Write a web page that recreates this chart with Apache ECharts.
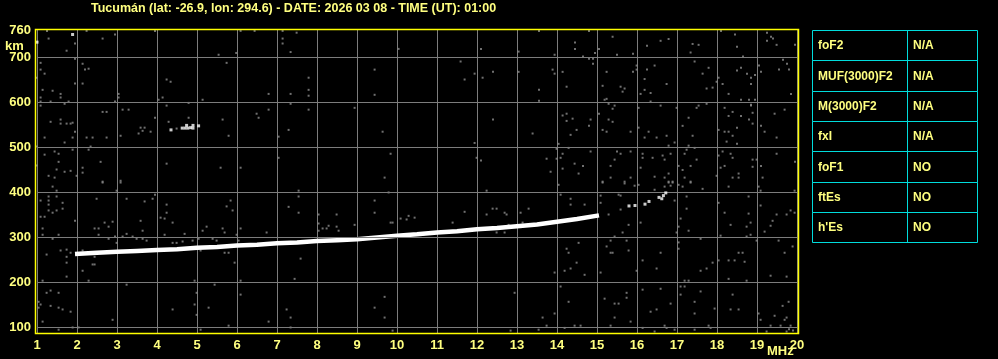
<!DOCTYPE html>
<html>
<head>
<meta charset="utf-8">
<script src="https://cdn.jsdelivr.net/npm/echarts@6/dist/echarts.min.js"></script>
<style>
html,body{margin:0;padding:0;background:#000;}
#chart{width:998px;height:359px;}
</style>
</head>
<body>
<div id="chart"></div>
<script>
const titleText = 'Tucumán (lat: -26.9, lon: 294.6) - DATE: 2026 03 08 - TIME (UT): 01:00';
const xTicks = [1,2,3,4,5,6,7,8,9,10,11,12,13,14,15,16,17,18,19,20];
const yTickLabels = [100,200,300,400,500,600,700,760];
const yGridValues = [100,200,300,400,500,600,700];
const xUnit = 'MHz';
const yUnit = 'km';
const tableParams = ['foF2','MUF(3000)F2','M(3000)F2','fxI','foF1','ftEs',"h'Es"];
const tableValues = ['N/A','N/A','N/A','N/A','NO','NO','NO'];

// main F-trace (frequency MHz, virtual height km)
const traceFreq = [1.95,2.5,3,3.5,4,4.5,5,5.5,6,6.5,7,7.5,8,8.5,9,9.5,10,10.5,11,11.5,12,12.5,13,13.5,14,14.5,15.05];
const traceHeight = [262,265,267,269,271,273,276,278,281,283,286,288,291,293,295,299,303,306,310,313,317,320,324,328,334,340,348];
// isolated white echoes
const whiteDots = [[15.8,369],[15.95,370],[16.2,373],[16.3,379],[16.55,388],[16.62,385],[16.66,392],[16.72,398],
  [4.35,538],[4.63,542],[4.7,542],[4.77,542],[4.84,543],[4.9,542],[4.74,548],[4.9,548],[5.04,547],[1.0,733],[1.89,750]];

// grey noise echoes
const noiseA = [[1.25,758],[1.95,730],[1.29,741],[1.74,714],[2.24,758],[2.64,741],[2.95,750],[3.95,758],[6.09,758],[6.44,758],[7.14,758],[7.14,741],[7.14,730],[7.49,754],[7.34,711],[5.54,705],[5.98,709],[10.04,718],[5.74,687],[1.09,687],[1.09,672],[1.19,663],[1.95,696],[2.14,685],[2.2,672],[2.29,674],[1.0,654],[1.14,627],[1.39,625],[1.59,618],[1.59,610],[1.09,610],[1.09,601],[1.34,601],[1.79,601],[1.69,596],[1.09,592],[1.95,641],[2.14,641],[3.04,618],[3.04,610],[2.95,601],[4.24,650],[4.34,645],[4.14,610],[4.04,605],[4.24,592],[4.79,598],[5.14,605],[6.79,618],[7.34,618],[7.79,654],[7.79,627],[7.79,614],[7.34,596],[6.79,583],[7.79,583],[9.44,672],[9.44,616],[8.94,587],[3.14,583],[3.29,583],[2.64,578],[2.74,578],[3.95,565],[4.29,556],[4.79,565],[5.64,561],[6.49,574],[6.54,565],[1.34,556],[1.59,561],[1.59,552],[1.74,552],[1.84,552],[1.89,554],[1.95,534],[1.19,521],[1.89,521],[2.24,521],[2.39,521],[2.74,521],[3.09,525],[3.54,530],[3.59,543],[3.69,543],[3.64,536],[3.84,534],[4.49,541],[5.79,525],[7.04,523],[7.29,538],[9.64,534],[1.69,510],[2.34,501],[2.29,494],[1.89,494],[1.0,501],[1.44,490],[1.54,485],[1.19,483],[2.59,467],[1.54,467],[1.49,450],[1.69,445],[1.84,447],[2.14,454],[2.14,443],[1.99,436],[1.29,436],[1.44,432],[2.64,423],[3.09,425],[4.24,463],[5.59,454],[6.09,454],[7.04,476],[9.84,485],[9.69,432],[1.0,459]];
const noiseB = [[13.55,758],[14.8,758],[15.39,745],[18.1,758],[18.45,750],[19.25,754],[19.35,745],[19.4,741],[19.25,736],[19.49,727],[19.95,727],[12.1,718],[13.04,712],[13.94,705],[14.45,732],[14.45,718],[14.65,701],[14.8,696],[14.9,696],[14.9,685],[14.95,709],[15.05,718],[15.5,705],[15.9,707],[16.25,725],[16.59,736],[16.79,740],[17.39,729],[17.54,727],[17.34,710],[18.5,723],[18.65,701],[11.59,690],[11.94,663],[11.69,650],[12.14,654],[12.4,667],[13.04,667],[13.89,672],[13.94,663],[14.14,667],[13.55,627],[13.55,603],[14.24,634],[15.24,667],[15.14,636],[15.59,634],[15.69,630],[15.64,623],[15.24,607],[15.19,605],[15.9,667],[15.99,681],[15.99,672],[16.25,672],[16.44,681],[16.19,651],[16.19,627],[16.34,620],[16.09,618],[16.34,601],[16.74,640],[17.44,690],[17.64,663],[17.79,676],[17.74,630],[17.89,632],[18.04,654],[17.99,645],[18.14,640],[18.29,618],[18.5,670],[18.6,676],[18.75,663],[18.85,654],[18.85,640],[18.95,660],[19.05,681],[19.1,667],[19.55,672],[19.65,694],[19.75,685],[19.8,672],[19.85,618],[18.6,605],[18.8,605],[18.95,605],[18.85,594],[12.4,561],[13.39,530],[11.94,509],[14.14,570],[14.24,574],[14.24,558],[14.39,563],[14.84,561],[14.8,547],[14.49,538],[14.34,527],[14.04,507],[15.05,574],[15.29,596],[15.44,592],[15.39,585],[15.29,561],[15.39,556],[15.14,538],[15.24,534],[15.84,534],[16.04,587],[16.04,543],[16.29,534],[16.19,521],[16.49,521],[16.59,592],[16.74,525],[16.99,587],[17.14,547],[17.29,565],[17.49,587],[17.54,592],[17.74,596],[17.39,525],[16.94,510],[16.79,503],[17.29,503],[17.44,498],[18.04,538],[18.19,534],[18.29,534],[18.39,525],[18.5,543],[18.19,587],[18.29,569],[18.39,578],[18.6,569],[18.8,561],[18.89,576],[18.89,552],[19.1,547],[19.19,534],[19.49,521],[19.44,574],[19.69,583],[18.85,592],[18.24,512],[18.5,507],
  [11.99,476],[12.1,470],[13.74,474],[13.99,474],[13.99,496],[14.09,476],[14.14,485],[14.14,452],[14.29,498],[14.44,463],[14.65,458],[14.54,441],[13.84,445],[14.84,490],[15.5,490],[15.59,485],[15.44,472],[15.34,458],[15.34,432],[15.84,490],[15.84,432],[16.14,485],[16.14,476],[16.09,454],[16.39,476],[16.64,481],[16.69,472],[16.84,485],[16.44,434],[16.79,441],[16.69,432],[16.79,423],[16.89,423],[17.19,485],[17.24,494],[17.49,472],[17.04,458],[17.14,449],[17.34,458],[17.19,432],[17.34,423],[18.04,481],[18.14,490],[18.34,485],[18.39,476],[18.19,458],[18.09,454],[17.99,436],[18.54,441],[18.54,432],[18.39,432],[18.89,472],[18.99,472],[18.89,456],[19.1,458],[19.14,432],[19.49,485],[19.95,467],[15.14,423],[15.69,423]];
const noiseC = [[1.39,412],[1.49,403],[1.29,390],[1.49,390],[1.29,381],[1.29,372],[1.64,376],[1.64,363],[1.49,359],[1.39,354],[1.29,359],[1.09,381],[1.09,345],[1.19,345],[1.95,336],[2.49,385],[2.64,421],[3.09,421],[2.99,403],[3.95,394],[3.89,385],[3.69,379],[3.24,385],[4.24,372],[4.24,354],[4.09,343],[4.19,341],[4.39,332],[3.59,336],[3.64,314],[2.89,334],[2.79,323],[2.69,332],[2.54,319],[2.44,319],[2.54,305],[1.14,319],[1.14,305],[1.54,305],[1.39,296],[3.24,307],[3.14,301],[3.39,301],[3.49,296],[3.64,296],[3.74,292],[2.95,301],[2.99,287],[2.79,296],[4.19,305],[4.39,287],[4.49,287],[4.64,290],[4.69,307],[4.89,292],[5.04,296],[5.14,314],[5.24,323],[5.39,296],[5.49,292],[5.74,368],[5.84,381],[5.89,359],[5.64,319],[5.69,310],[5.99,305],[6.09,319],[6.04,292],[6.74,310],[7.29,367],[7.54,403],[7.54,390],[7.54,354],[8.04,350],[8.04,330],[8.04,314],[8.14,319],[8.24,319],[8.29,325],[8.49,350],[8.49,323],[8.54,314],[8.94,327],[9.44,381],[9.44,354],[9.79,399],[9.84,332],[9.89,332],[10.09,341],[10.29,347],[10.24,339],[10.44,343],
  [1.24,261],[1.59,270],[1.74,272],[1.74,256],[1.74,243],[1.84,265],[2.14,270],[2.14,225],[2.44,256],[2.39,239],[2.44,239],[1.74,212],[2.29,203],[1.14,203],[3.24,194],[4.99,176],[4.94,203],[5.44,194],[5.94,243],[6.09,203],[6.09,172],[5.79,265],[5.69,265],[5.09,270],[4.94,150],[4.99,127],[5.29,143],[4.39,139],[5.79,103],[6.79,112],[7.24,139],[7.34,121],[7.34,99],[7.59,252],[7.44,207],[9.69,167],[9.69,121],[9.44,143],[9.89,92],[1.24,176],[1.34,181],[1.54,176],[1.04,156],[1.04,143],[1.34,147],[1.54,143],[1.64,139],[1.84,134],[1.14,112],[1.54,94],[2.04,99],[1.89,99],[2.89,116],[5.09,94],[1.09,150]];
const noiseD = [[14.04,416],[15.14,421],[15.69,419],[15.94,414],[16.04,416],[16.44,405],[16.69,412],[16.79,421],[16.89,421],[16.84,414],[17.04,416],[17.14,412],[17.34,421],[17.64,407],[18.29,412],[19.04,412],[19.09,403],[19.94,403],[12.24,403],[14.09,394],[14.34,385],[14.34,372],[14.69,372],[15.09,392],[15.09,376],[15.59,392],[15.54,394],[16.94,381],[17.24,390],[17.24,363],[18.04,376],[18.19,354],[18.79,390],[18.79,352],[19.09,370],[19.49,350],[19.84,359],[19.94,354],[11.69,356],[12.24,350],[12.39,363],[12.49,363],[12.69,354],[12.74,350],[13.09,354],[13.29,363],[15.29,350],[15.59,361],[15.79,327],[16.09,332],[17.04,323],[17.09,341],[17.29,314],[16.99,310],[17.59,296],[18.09,303],[18.34,327],[18.74,323],[18.84,332],[18.74,301],[18.84,305],[18.99,292],[19.19,312],[19.34,325],[19.39,336],[19.54,292],[19.89,279],[19.74,350],
  [11.39,332],[11.54,314],[12.49,310],[12.69,310],[12.79,327],[13.14,332],[13.79,330],[14.54,287],[15.34,292],[14.24,274],[14.29,265],[15.24,279],[15.34,265],[15.39,265],[15.79,270],[15.74,292],[15.64,310],[15.44,301],[16.14,248],[16.49,230],[16.59,265],[15.99,225],[15.09,221],[14.69,216],[14.19,225],[14.34,230],[13.94,221],[14.49,243],[17.04,288],[17.04,274],[17.89,243],[17.74,230],[17.59,225],[18.04,248],[18.29,248],[18.44,248],[18.54,265],[18.64,265],[18.69,245],[19.69,265],[19.34,214],[19.74,212],[18.74,203],[18.29,207],[17.19,203],[17.29,203],[17.09,190],[17.19,190],[17.59,179],[17.09,172],[17.44,156],[17.44,130],[17.94,141],[18.34,139],[18.54,139],[18.39,172],[19.04,130],[19.09,116],[19.44,125],[19.64,147],[19.79,156],[19.74,121],[19.69,116],[19.84,103],[19.59,103],[19.34,103],[19.24,90],[19.74,90],[19.9,92],[19.8,95],[17.79,103],[17.84,98],[17.44,94],[16.59,185],[16.14,183],[15.74,176],[15.74,165],[15.19,163],[15.44,152],[15.54,152],[16.34,134],[16.49,139],[16.84,152],[15.44,121],[15.84,112],[16.14,98],[16.44,90],[16.69,103],[16.74,98],[16.94,94],[12.94,176],[14.09,190],[14.29,156],[13.94,130],[13.64,121],[13.74,103],[14.44,103],[14.59,103],[14.19,98],[12.84,92],[13.54,94],[15.34,103]];

const YEL = '#ffff80';
const BORDER = '#ffff00';
const GRID = '#7c7c7c';
const CYAN = '#00dcdc';
const FONT = '"Liberation Sans", Arial, sans-serif';

const traceData = traceFreq.map((f, i) => [f, traceHeight[i]]);
const noiseData = noiseA.concat(noiseB, noiseC, noiseD);

// table graphics
const tLeft = 812, tMid = 907, tRight = 977, tTop = 30, rowH = 30.3;
const tableEls = [];
tableParams.forEach((p, i) => {
  const y = tTop + i * rowH;
  tableEls.push({type:'rect', shape:{x:tLeft + 0.5, y:Math.round(y) + 0.5, width:tRight - tLeft, height:Math.round(y + rowH) - Math.round(y)},
    style:{fill:'none', stroke:CYAN, lineWidth:1}, silent:true});
  tableEls.push({type:'text', x:tLeft + 6, y:y + rowH / 2 + 1, style:{text:p, fill:YEL, font:'bold 12px ' + FONT, textVerticalAlign:'middle', verticalAlign:'middle'}});
  tableEls.push({type:'text', x:tMid + 6, y:y + rowH / 2 + 1, style:{text:tableValues[i], fill:YEL, font:'bold 12px ' + FONT, textVerticalAlign:'middle', verticalAlign:'middle'}});
});
tableEls.push({type:'line', shape:{x1:tMid + 0.5, y1:tTop, x2:tMid + 0.5, y2:tTop + rowH * tableParams.length}, style:{stroke:CYAN, lineWidth:1}, silent:true});

const chart = echarts.init(document.getElementById('chart'), null, {renderer:'canvas'});
chart.setOption({
  backgroundColor:'#000',
  animation:false,
  title:{text:titleText, left:86, top:-3, textStyle:{color:YEL, fontSize:12.5, fontWeight:'bold', fontFamily:FONT}},
  grid:{left:37, right:201, top:30, bottom:26, containLabel:false},
  xAxis:{type:'value', min:1, max:20, interval:1,
    axisLine:{show:false}, axisTick:{show:false},
    axisLabel:{color:YEL, fontSize:13, fontWeight:'bold', fontFamily:FONT, margin:6, showMaxLabel:true},
    splitLine:{show:true, lineStyle:{color:GRID, width:1}}},
  yAxis:{type:'value', min:86.67, max:760,
    axisLine:{show:false},
    axisTick:{show:false, customValues:yTickLabels},
    axisLabel:{color:YEL, fontSize:13, fontWeight:'bold', fontFamily:FONT, margin:6, customValues:yTickLabels},
    splitLine:{show:false}},
  series:[
    {type:'scatter', name:'noise', data:noiseData, symbol:'rect', symbolSize:[2,2],
      itemStyle:{color:'#8c8c8c'}, silent:true, z:2,
      markLine:{silent:true, symbol:'none', label:{show:false}, animation:false,
        lineStyle:{color:GRID, width:1, type:'solid'},
        data:yGridValues.map(v => ({yAxis:v}))}},
    {type:'line', name:'trace', data:traceData, symbol:'none', lineStyle:{color:'#ffffff', width:4.5}, z:4, silent:true},
    {type:'scatter', name:'echoes', data:whiteDots, symbol:'rect', symbolSize:[3,3], itemStyle:{color:'#ffffff'}, z:5, silent:true}
  ],
  graphic:[
    {type:'rect', shape:{x:35.5, y:29.5, width:763, height:304}, style:{fill:'none', stroke:BORDER, lineWidth:1.5}, silent:true, z:100},
    {type:'text', x:5, y:40, style:{text:yUnit, fill:YEL, font:'bold 13px ' + FONT}, z:100},
    {type:'text', x:767, y:345, style:{text:xUnit, fill:YEL, font:'bold 13px ' + FONT}, z:100}
  ].concat(tableEls)
});
</script>
</body>
</html>
